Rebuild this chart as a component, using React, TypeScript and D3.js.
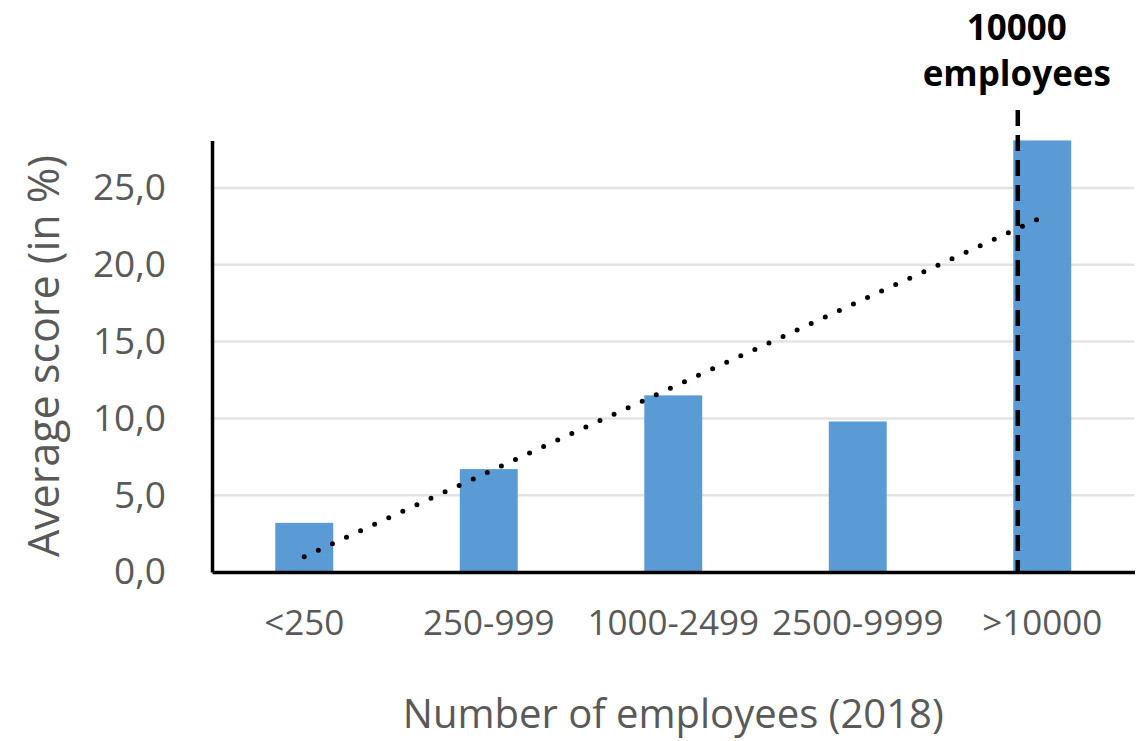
import { useEffect, useRef } from "react";
import * as d3 from "d3";

const categories = ["<250", "250-999", "1000-2499", "2500-9999", ">10000"];
const scores = [3.2, 6.7, 11.5, 9.8, 28.1];
const yTicks = [0, 5, 10, 15, 20, 25];
// linear trend line ends
const trendEnds = [1.0, 23.1];
const markerCategory = ">10000";
const markerLabel = ["10000", "employees"];

export default function App() {
  const svgRef = useRef<SVGSVGElement | null>(null);

  useEffect(() => {
    const width = 1141;
    const height = 741;
    const left = 212;
    const right = 1134.5;
    const bottom = 572;
    const top = 140.4;

    const svg = d3.select(svgRef.current).attr("width", width).attr("height", height);
    svg.selectAll("*").remove();

    const font = "'Open Sans', 'Noto Sans', sans-serif";

    const x = d3
      .scaleBand()
      .domain(categories)
      .range([left, right])
      .paddingInner(0.686)
      .paddingOuter(0.343);

    const y = d3.scaleLinear().domain([0, 28.1]).range([bottom, top]);

    // gridlines
    svg
      .append("g")
      .selectAll("line")
      .data(yTicks.filter((d) => d > 0))
      .join("line")
      .attr("x1", left)
      .attr("x2", right)
      .attr("y1", (d) => y(d))
      .attr("y2", (d) => y(d))
      .attr("stroke", "#e3e3e3")
      .attr("stroke-width", 2.5);

    // bars
    svg
      .append("g")
      .selectAll("rect")
      .data(scores)
      .join("rect")
      .attr("x", (_, i) => x(categories[i])!)
      .attr("y", (d) => y(d))
      .attr("width", x.bandwidth())
      .attr("height", (d) => bottom - y(d))
      .attr("fill", "#5b9bd5");

    // trend line (dotted)
    const c0 = x(categories[0])! + x.bandwidth() / 2;
    const c1 = x(categories[categories.length - 1])! + x.bandwidth() / 2;
    svg
      .append("line")
      .attr("x1", c0)
      .attr("y1", y(trendEnds[0]))
      .attr("x2", c1)
      .attr("y2", y(trendEnds[1]))
      .attr("stroke", "#000")
      .attr("stroke-width", 5)
      .attr("stroke-linecap", "round")
      .attr("stroke-dasharray", "0 15.5");

    // marker dashed line
    const mx = x(markerCategory)! + 4.5;
    svg
      .append("line")
      .attr("x1", mx)
      .attr("x2", mx)
      .attr("y1", 110)
      .attr("y2", bottom)
      .attr("stroke", "#000")
      .attr("stroke-width", 4.5)
      .attr("stroke-dasharray", "16 9");

    svg
      .append("text")
      .attr("x", mx - 1)
      .attr("y", 40)
      .attr("text-anchor", "middle")
      .attr("font-family", font)
      .attr("font-weight", "bold")
      .attr("font-size", 35)
      .attr("fill", "#000")
      .selectAll("tspan")
      .data(markerLabel)
      .join("tspan")
      .attr("x", mx - 1)
      .attr("dy", (_, i) => (i === 0 ? 0 : 46))
      .text((d) => d);

    // axes
    const yAxis = svg.append("g").attr("transform", `translate(${left},0)`).call(
      d3
        .axisLeft(y)
        .tickValues(yTicks)
        .tickSize(0)
        .tickPadding(46)
        .tickFormat((d) => d3.format(".1f")(d as number).replace(".", ","))
    );
    yAxis.select(".domain").attr("stroke", "#000").attr("stroke-width", 3.5);
    yAxis
      .selectAll("text")
      .attr("font-family", font)
      .attr("font-size", 37)
      .attr("fill", "#595959");

    const xAxis = svg.append("g").attr("transform", `translate(0,${bottom})`).call(
      d3.axisBottom(x).tickSize(0).tickPadding(38)
    );
    xAxis.select(".domain").attr("stroke", "#000").attr("stroke-width", 3.5);
    xAxis
      .selectAll("text")
      .attr("font-family", font)
      .attr("font-size", 35)
      .attr("fill", "#595959");

    // axis titles
    svg
      .append("text")
      .attr("transform", `translate(59,${(bottom + 140) / 2}) rotate(-90)`)
      .attr("text-anchor", "middle")
      .attr("font-family", font)
      .attr("font-size", 43)
      .attr("fill", "#595959")
      .text("Average score (in %)");

    svg
      .append("text")
      .attr("x", (left + right) / 2)
      .attr("y", 728)
      .attr("text-anchor", "middle")
      .attr("font-family", font)
      .attr("font-size", 40)
      .attr("fill", "#595959")
      .text("Number of employees (2018)");
  }, []);

  return (
    <svg
      ref={svgRef}
      style={{ position: "absolute", left: 0, top: 0, background: "#fff" }}
    ></svg>
  );
}
